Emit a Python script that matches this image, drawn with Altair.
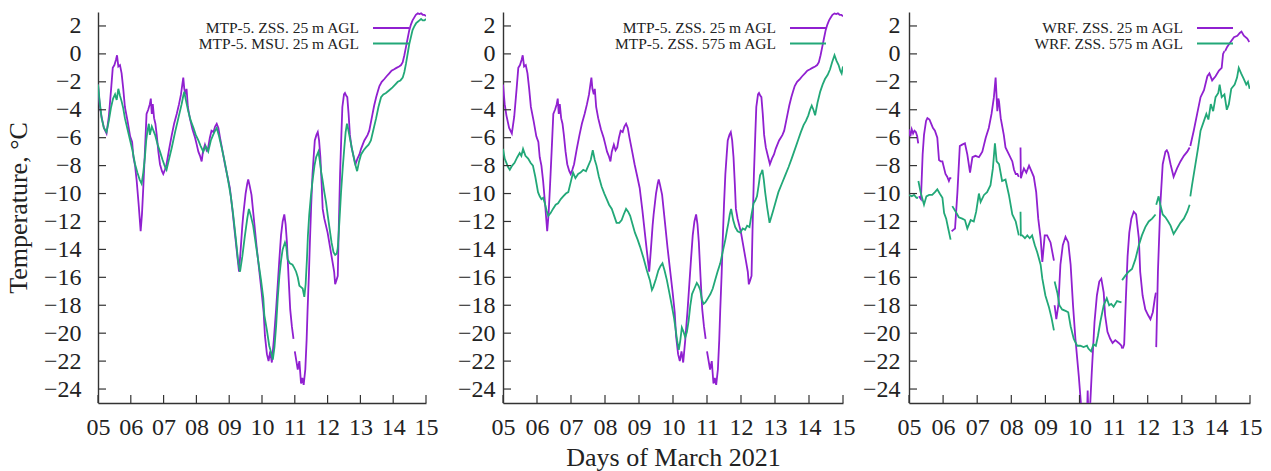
import altair as alt
import pandas as pd

FONT = "Liberation Serif"
PURPLE = "#9020d0"
GREEN = "#22a878"
AXC = "#333333"
TXT = "#222222"

X_TICKS = list(range(5, 16))
Y_TICKS = list(range(-24, 3, 2))

# ---- MTP-5, ZSS, 25 m AGL (panels 1 and 2) ----
ZSS25_DAY = [5.00,5.05,5.10,5.18,5.26,5.33,5.40,5.45,5.50,5.55,5.58,5.62,5.67,5.72,5.77,5.82,5.90,5.98,6.04,6.08,
             6.13,6.18,6.24,6.30,6.34,6.38,6.43,6.48,6.53,6.58,6.61,6.64,6.67,6.71,6.75,6.79,6.84,6.89,6.95,6.99,
             7.04,7.09,7.17,7.25,7.32,7.40,7.47,7.53,7.57,7.60,7.63,7.67,7.70,7.74,7.80,7.88,7.96,8.01,8.06,8.11,
             8.16,8.20,8.26,8.31,8.36,8.41,8.46,8.52,8.57,8.62,8.67,8.72,8.80,8.87,8.95,9.02,9.10,9.18,9.24,9.30,
             9.35,9.40,9.43,9.50,9.55,9.58,9.62,9.68,9.76,9.84,9.92,9.99,10.05,10.09,10.15,10.20,10.25,10.30,10.36,10.43,
             10.48,10.53,10.58,10.63,10.68,10.72,10.76,10.81,10.86,10.91,10.96,11.00,11.09,11.14,11.19,11.23,11.27,11.32,11.36,11.39,
             11.43,11.46,11.50,11.54,11.58,11.61,11.66,11.70,11.74,11.78,11.82,11.85,11.90,11.95,12.00,12.05,12.10,12.15,12.20,12.23,
             12.27,12.31,12.34,12.38,12.42,12.45,12.50,12.53,12.57,12.60,12.64,12.68,12.73,12.78,12.85,12.91,12.97,13.02,13.07,13.12,
             13.17,13.22,13.27,13.32,13.37,13.42,13.48,13.53,13.58,13.65,13.73,13.80,13.88,13.95,14.03,14.10,14.18,14.24,14.29,14.34,
             14.39,14.44,14.49,14.54,14.59,14.64,14.69,14.75,14.80,14.85,14.90,14.95,15.00]
ZSS25_T = [-2.2,-3.6,-4.4,-5.3,-5.7,-4.5,-2.5,-1.0,-0.8,-0.4,-0.1,-0.9,-0.8,-1.4,-2.5,-3.8,-4.8,-5.9,-6.3,-7.4,
           -8.0,-9.1,-10.8,-12.7,-11.5,-9.6,-7.0,-4.3,-4.0,-3.6,-3.2,-4.3,-3.6,-4.6,-5.0,-5.8,-7.0,-7.9,-8.4,-8.6,
           -8.3,-7.9,-6.8,-5.8,-5.0,-4.3,-3.6,-2.9,-2.2,-1.7,-2.5,-2.9,-2.5,-3.8,-4.6,-5.4,-6.0,-6.5,-7.0,-7.3,
           -7.7,-7.0,-6.5,-6.9,-6.7,-6.0,-5.5,-5.6,-5.2,-5.0,-5.3,-6.0,-7.0,-7.9,-8.8,-9.6,-11.2,-13.0,-14.3,-15.6,
           -14.0,-12.3,-11.5,-10.0,-9.3,-9.0,-9.4,-10.1,-12.0,-13.9,-15.6,-17.1,-18.5,-20.2,-21.5,-22.0,-21.3,-22.1,-20.5,-18.3,
           -16.5,-14.7,-13.0,-12.0,-11.5,-12.2,-13.5,-16.0,-18.3,-19.5,-20.4,-21.3,-22.6,-22.0,-23.6,-23.2,-23.7,-22.6,-20.5,-18.3,
           -15.8,-13.5,-10.8,-8.6,-7.2,-6.2,-5.8,-5.6,-6.2,-7.4,-9.4,-11.1,-11.8,-12.3,-12.8,-13.5,-14.2,-14.9,-15.6,-16.5,
           -16.2,-15.9,-12.5,-8.6,-5.8,-3.8,-2.9,-2.8,-3.0,-3.1,-4.3,-5.8,-6.7,-7.2,-7.9,-7.5,-7.2,-6.8,-6.5,-6.2,
           -6.0,-5.8,-5.5,-4.9,-4.3,-3.7,-3.1,-2.7,-2.3,-2.0,-1.8,-1.6,-1.4,-1.2,-1.1,-1.0,-0.9,-0.8,-0.6,-0.1,
           0.5,1.1,1.7,2.1,2.4,2.6,2.8,2.9,2.85,2.9,2.8,2.8,2.7]
ZSS25_BREAKS = [10.98]

# ---- MTP-5, MSU, 25 m AGL (panel 1) ----
MSU25_DAY = [5.00,5.05,5.11,5.18,5.26,5.33,5.40,5.46,5.52,5.57,5.62,5.67,5.72,5.77,5.82,5.90,5.98,6.05,6.13,6.20,
             6.27,6.33,6.38,6.43,6.47,6.51,6.55,6.58,6.64,6.69,6.74,6.82,6.89,6.97,7.03,7.09,7.17,7.25,7.35,7.45,
             7.55,7.60,7.63,7.67,7.75,7.83,7.91,7.98,8.06,8.13,8.21,8.28,8.36,8.44,8.51,8.57,8.62,8.68,8.77,8.87,
             8.97,9.05,9.12,9.20,9.27,9.33,9.40,9.48,9.55,9.60,9.66,9.73,9.81,9.89,9.97,10.04,10.07,10.15,10.22,10.28,
             10.33,10.38,10.43,10.48,10.53,10.58,10.63,10.70,10.74,10.78,10.85,10.93,10.98,11.04,11.09,11.14,11.19,11.24,11.29,11.33,
             11.37,11.40,11.44,11.49,11.54,11.60,11.65,11.72,11.76,11.80,11.85,11.90,11.95,12.00,12.06,12.12,12.18,12.23,12.28,12.31,
             12.36,12.41,12.46,12.51,12.55,12.59,12.62,12.66,12.71,12.76,12.83,12.90,12.96,13.02,13.10,13.17,13.25,13.32,13.40,13.48,
             13.55,13.63,13.70,13.78,13.88,13.98,14.06,14.14,14.22,14.29,14.34,14.39,14.44,14.49,14.54,14.59,14.65,14.70,14.75,14.80,
             14.85,14.90,14.95,15.00]
MSU25_T = [-2.2,-3.4,-4.6,-5.3,-5.6,-4.8,-3.8,-3.2,-2.9,-3.3,-2.5,-3.0,-3.4,-3.9,-4.6,-5.4,-6.2,-6.9,-7.9,-8.5,
           -9.0,-9.3,-8.5,-7.4,-6.2,-5.5,-5.0,-5.8,-5.2,-5.5,-5.8,-6.5,-7.0,-7.6,-8.0,-8.3,-7.5,-6.7,-5.6,-4.6,
           -3.6,-3.0,-2.7,-3.2,-4.1,-4.8,-5.3,-5.8,-6.2,-6.6,-7.0,-6.6,-7.0,-6.2,-5.8,-5.5,-5.3,-5.8,-6.7,-7.8,
           -9.1,-10.2,-11.5,-13.2,-14.8,-15.6,-14.5,-13.0,-11.8,-11.1,-11.6,-12.3,-13.6,-14.9,-16.2,-17.5,-18.7,-19.8,-20.9,-21.4,
           -21.9,-21.0,-19.5,-17.5,-15.9,-14.8,-14.0,-13.5,-13.8,-14.7,-15.0,-15.1,-15.3,-15.6,-16.0,-16.6,-16.7,-16.8,-17.4,-16.5,
           -14.7,-13.0,-11.5,-10.2,-9.1,-8.0,-7.4,-7.0,-7.6,-8.4,-9.1,-9.9,-10.6,-11.5,-12.5,-13.5,-14.2,-14.4,-14.3,-13.9,
           -12.0,-9.9,-8.2,-6.7,-5.6,-5.0,-5.3,-5.8,-6.4,-7.0,-7.8,-8.4,-7.7,-7.2,-6.9,-6.7,-6.5,-6.2,-5.4,-4.6,
           -3.8,-3.1,-2.9,-2.8,-2.6,-2.4,-2.2,-2.0,-1.9,-1.7,-1.3,-0.7,0.0,0.7,1.2,1.7,2.0,2.2,2.3,2.4,
           2.5,2.4,2.4,2.5]

# ---- MTP-5, ZSS, 575 m AGL (panel 2) ----
ZSS575_DAY = [5.00,5.05,5.10,5.15,5.20,5.27,5.34,5.42,5.49,5.54,5.59,5.66,5.74,5.81,5.88,5.95,6.03,6.08,6.13,6.18,
              6.23,6.28,6.33,6.40,6.47,6.55,6.62,6.70,6.77,6.85,6.92,6.99,7.06,7.13,7.21,7.28,7.36,7.44,7.51,7.58,
              7.64,7.70,7.75,7.82,7.90,7.98,8.05,8.12,8.20,8.27,8.34,8.42,8.49,8.55,8.62,8.68,8.74,8.81,8.88,8.96,
              9.03,9.13,9.23,9.32,9.38,9.42,9.50,9.57,9.63,9.69,9.75,9.82,9.90,9.97,10.03,10.07,10.12,10.17,10.21,10.26,
              10.31,10.36,10.41,10.46,10.51,10.56,10.63,10.70,10.75,10.80,10.85,10.90,10.95,11.00,11.05,11.10,11.17,11.24,11.31,11.39,
              11.46,11.54,11.59,11.63,11.67,11.71,11.77,11.83,11.90,11.98,12.05,12.12,12.18,12.25,12.31,12.37,12.42,12.47,12.52,12.56,
              12.60,12.63,12.67,12.71,12.77,12.84,12.90,12.96,13.03,13.10,13.20,13.30,13.40,13.49,13.59,13.69,13.76,13.84,13.91,13.98,
              14.03,14.08,14.13,14.18,14.25,14.33,14.40,14.47,14.55,14.62,14.68,14.75,14.81,14.87,14.92,14.96,15.00]
ZSS575_T = [-6.8,-7.5,-7.8,-8.1,-8.3,-8.0,-7.8,-7.4,-7.1,-7.3,-6.8,-7.3,-7.5,-7.8,-8.0,-8.8,-9.9,-10.2,-10.4,-10.3,
            -10.7,-11.2,-11.6,-11.4,-11.1,-10.8,-10.7,-10.4,-10.2,-10.0,-9.9,-9.2,-8.5,-8.9,-8.6,-8.5,-8.3,-8.4,-8.0,-7.6,
            -6.9,-7.6,-8.0,-8.8,-9.5,-10.0,-10.4,-10.8,-11.1,-11.6,-12.1,-12.1,-11.9,-11.5,-11.1,-11.3,-11.6,-12.2,-12.8,-13.3,
            -13.8,-14.6,-15.5,-16.2,-16.9,-16.7,-16.1,-15.5,-15.2,-15.0,-15.5,-16.2,-17.2,-18.1,-18.9,-19.6,-20.5,-21.2,-20.6,-19.6,
            -19.9,-20.3,-19.9,-19.1,-18.0,-17.2,-16.8,-16.4,-16.6,-16.9,-17.6,-17.9,-17.8,-17.6,-17.4,-17.2,-16.8,-16.2,-15.6,-15.0,
            -14.2,-13.3,-12.6,-12.1,-11.5,-11.1,-11.9,-12.4,-12.7,-12.8,-12.5,-12.6,-12.3,-12.4,-11.5,-10.7,-10.5,-10.2,-9.4,-8.7,
            -8.5,-8.3,-9.0,-9.9,-11.0,-12.1,-11.6,-11.1,-10.5,-9.9,-9.3,-8.7,-8.1,-7.5,-6.8,-6.1,-5.6,-5.1,-4.8,-4.4,
            -4.0,-3.7,-4.0,-4.4,-3.5,-2.7,-2.2,-1.8,-1.5,-1.1,-0.6,-0.1,-0.5,-0.8,-1.2,-1.4,-0.9]

# ---- WRF, ZSS, 25 m AGL (panel 3) ----
WRF25_DAY = [5.00,5.04,5.08,5.12,5.16,5.20,5.24,5.27,
             5.29,5.35,5.40,5.44,5.50,5.54,5.60,5.65,5.70,5.76,5.83,5.88,5.93,5.98,6.03,6.07,6.12,6.17,6.20,6.24,
             6.25,6.30,6.35,6.42,6.49,6.56,6.64,6.71,6.79,6.86,6.95,7.05,7.10,7.15,7.25,7.34,7.42,7.49,7.54,7.59,7.62,7.64,
             7.69,7.78,7.83,7.93,8.03,8.08,8.13,8.18,8.22,
             8.27,8.28,8.33,8.37,8.44,8.52,8.59,8.66,8.73,8.79,8.86,8.91,8.98,9.05,9.15,9.25,
             9.27,9.32,9.38,9.44,9.51,9.59,9.67,9.74,9.81,9.88,9.98,10.05,10.15,10.22,10.24,10.26,10.31,10.36,10.44,10.51,
             10.58,10.64,10.71,10.75,10.82,10.90,10.97,11.05,11.15,11.23,11.25,
             11.27,11.31,11.36,11.41,11.46,11.52,11.59,11.66,11.74,11.78,11.85,11.93,12.01,12.08,12.15,12.21,12.24,
             12.25,12.30,12.37,12.44,12.52,12.56,12.60,12.67,12.76,12.86,12.96,13.06,13.16,13.23,
             13.25,13.35,13.45,13.55,13.65,13.75,13.81,13.89,13.99,14.09,14.17,14.21,14.25,
             14.27,14.33,14.43,14.53,14.63,14.70,14.75,14.82,14.92,14.98]
WRF25_T = [-5.4,-5.9,-5.4,-5.7,-5.5,-5.6,-5.9,-6.4,
           -10.2,-10.4,-7.2,-5.8,-4.8,-4.6,-4.7,-5.0,-5.3,-5.5,-6.0,-7.6,-7.7,-7.7,-8.2,-8.6,-8.8,-9.1,-8.9,-8.9,
           -12.7,-12.6,-12.5,-9.9,-6.6,-6.5,-6.4,-7.2,-8.5,-7.4,-7.3,-7.4,-7.2,-7.0,-6.0,-5.3,-4.3,-3.1,-1.7,-4.1,-3.2,-3.4,
           -4.6,-5.8,-6.7,-7.2,-7.7,-8.3,-8.6,-8.6,-8.8,
           -6.7,-8.9,-8.5,-8.2,-8.5,-8.0,-8.4,-8.8,-9.9,-11.8,-13.2,-14.9,-13.0,-13.0,-13.5,-14.8,
           -18.0,-19.0,-18.0,-15.1,-13.7,-13.1,-13.5,-15.1,-18.0,-20.4,-23.1,-25.3,-26.5,-25.8,-24.1,-25.8,-25.3,-22.8,-19.2,-17.3,
           -16.3,-16.1,-17.1,-18.7,-19.9,-20.4,-20.7,-20.5,-20.7,-20.9,-21.1,
           -21.1,-20.8,-17.5,-14.5,-12.8,-11.8,-11.3,-11.5,-13.2,-15.6,-17.3,-18.3,-18.7,-19.0,-18.5,-17.5,-17.1,
           -21.0,-15.6,-10.8,-7.9,-7.0,-6.9,-7.1,-7.9,-8.8,-8.2,-7.7,-7.3,-7.0,-6.7,
           -6.6,-5.5,-4.3,-3.1,-2.6,-1.6,-1.4,-1.9,-1.6,-1.2,-1.0,0.0,0.2,
           0.2,0.5,0.85,1.2,1.3,1.5,1.6,1.3,1.1,0.85]
WRF25_BREAKS = [5.28, 6.245, 8.245, 9.26, 11.26, 12.245, 13.24, 14.26]

# ---- WRF, ZSS, 575 m AGL (panel 3) ----
WRF575_DAY = [5.00,5.08,5.15,5.22,5.265,
              5.275,5.34,5.44,5.51,5.59,5.68,5.76,5.83,5.90,5.98,6.03,6.09,6.15,6.22,
              6.27,6.37,6.46,6.56,6.64,6.71,6.81,6.90,6.97,7.05,7.10,7.20,7.29,7.39,7.46,7.52,7.57,7.64,7.73,7.83,
              7.93,8.03,8.13,8.22,
              8.27,8.28,8.32,8.40,8.47,8.54,8.61,8.69,8.76,8.86,8.91,9.00,9.10,9.18,9.25,
              9.27,9.35,9.41,9.49,9.59,9.67,9.74,9.83,9.93,10.02,10.12,10.22,10.26,10.34,10.41,10.48,10.54,10.61,10.71,10.80,
              10.87,10.93,11.00,11.10,11.23,
              11.25,11.34,11.44,11.54,11.64,11.74,11.83,11.93,12.03,12.13,12.23,
              12.25,12.32,12.37,12.44,12.52,12.60,12.67,12.76,12.86,12.96,13.06,13.16,13.23,
              13.25,13.30,13.40,13.48,13.55,13.65,13.72,13.78,13.85,13.92,13.99,14.07,14.11,14.17,14.25,14.32,14.38,14.45,14.55,14.62,
              14.67,14.74,14.82,14.89,14.94,14.99]
WRF575_T = [-10.1,-10.2,-10.1,-10.3,-10.3,
            -9.1,-9.9,-10.8,-10.2,-10.1,-10.1,-9.9,-9.7,-10.0,-10.3,-11.4,-11.8,-12.5,-13.3,
            -10.9,-11.3,-11.7,-11.8,-11.9,-12.5,-11.9,-12.0,-11.3,-10.0,-10.6,-10.1,-9.9,-9.4,-8.2,-6.4,-7.7,-7.9,-9.1,-9.0,
            -10.1,-11.5,-12.0,-13.0,
            -11.3,-13.0,-13.0,-13.2,-13.0,-13.2,-13.0,-13.7,-14.2,-15.1,-16.1,-17.3,-18.1,-18.9,-19.8,
            -16.3,-17.1,-18.0,-18.3,-18.4,-18.5,-19.5,-20.4,-20.9,-20.9,-21.0,-20.9,-21.1,-21.3,-20.8,-20.9,-20.2,-19.2,-18.0,-17.5,
            -18.0,-17.9,-18.1,-17.7,-17.8,
            -16.2,-15.9,-15.6,-15.4,-14.7,-13.7,-13.0,-12.4,-12.0,-11.8,-11.5,
            -10.8,-10.2,-10.8,-11.5,-11.7,-12.0,-12.3,-12.9,-12.5,-12.1,-11.8,-11.3,-10.8,
            -10.2,-9.4,-7.9,-6.7,-5.5,-4.8,-4.3,-4.7,-3.6,-4.1,-3.1,-2.8,-2.2,-3.1,-2.9,-4.0,-3.6,-2.5,-2.2,-1.7,
            -1.0,-1.4,-1.8,-2.2,-2.0,-2.5]
WRF575_BREAKS = [5.27, 6.245, 8.245, 9.26, 11.24, 12.24, 13.24]

NAMES = [
    ["MTP-5. ZSS. 25 m AGL", "MTP-5. MSU. 25 m AGL"],
    ["MTP-5. ZSS. 25 m AGL", "MTP-5. ZSS. 575 m AGL"],
    ["WRF. ZSS. 25 m AGL", "WRF. ZSS. 575 m AGL"],
]
KEYS = ["first", "second"]
WIDTHS = [328, 340, 341]
H = 391
LBL = 24


def series(key, days, temps, breaks=()):
    segs = [sum(1 for b in breaks if d > b) for d in days]
    return pd.DataFrame({"day": days, "temp": temps, "seg": [f"{key}-{s}" for s in segs], "key": key})


def panel(i, frames, ytitle, xtitle, ylabpad):
    W = WIDTHS[i]
    names = NAMES[i]
    df = pd.concat(frames, ignore_index=True)
    color = alt.Color("key:N", scale=alt.Scale(domain=KEYS, range=[PURPLE, GREEN]), legend=None)
    xaxis = alt.Axis(values=X_TICKS, format="02d", ticks=False, grid=False, domainColor=AXC, domainWidth=1.4,
                     labelFont=FONT, labelFontSize=LBL, labelColor=TXT, labelPadding=12, labelFlush=False,
                     labelOverlap=False, title=xtitle, titleFont=FONT, titleFontSize=26, titleFontWeight="normal",
                     titleColor=TXT, titlePadding=5)
    yaxis = alt.Axis(values=Y_TICKS, ticks=False, grid=False, domainColor=AXC, domainWidth=1.4,
                     labelFont=FONT, labelFontSize=LBL, labelColor=TXT, labelPadding=ylabpad,
                     labelOverlap=False, labelFlush=False, title=ytitle, titleFont=FONT, titleFontSize=26,
                     titleFontWeight="normal", titleColor=TXT, titlePadding=12)
    xs = alt.Scale(domain=[5, 15], nice=False, zero=False)
    ys = alt.Scale(domain=[-25, 3], nice=False, zero=False)
    lines = alt.Chart(df).mark_line(strokeWidth=1.8, clip=True).encode(
        x=alt.X("day:Q", scale=xs, axis=xaxis),
        y=alt.Y("temp:Q", scale=ys, axis=yaxis),
        color=color,
        detail="seg:N",
    )
    yt = alt.Chart(pd.DataFrame({"temp": Y_TICKS})).mark_rule(color=AXC, strokeWidth=1.2).encode(
        y=alt.Y("temp:Q", scale=ys, axis=yaxis), x=alt.value(0), x2=alt.value(8))
    xt = alt.Chart(pd.DataFrame({"day": X_TICKS})).mark_rule(color=AXC, strokeWidth=1.2).encode(
        x=alt.X("day:Q", scale=xs, axis=xaxis), y=alt.value(H), y2=alt.value(H - 8))
    layers = [lines, yt, xt]
    for k, (nm, col, yy) in enumerate(zip(names, [PURPLE, GREEN], [16, 31.5])):
        lab = pd.DataFrame({"label": [nm]})
        layers.append(alt.Chart(lab).mark_text(align="right", baseline="middle", font=FONT, fontSize=15.5,
                                                color=TXT).encode(
            x=alt.value(W - 67), y=alt.value(yy), text="label:N"))
        layers.append(alt.Chart(lab).mark_rule(color=col, strokeWidth=1.8).encode(
            x=alt.value(W - 53), x2=alt.value(W - 17), y=alt.value(yy)))
    return alt.layer(*layers).properties(width=W, height=H)


p1 = panel(0, [series(KEYS[0], ZSS25_DAY, ZSS25_T, ZSS25_BREAKS),
               series(KEYS[1], MSU25_DAY, MSU25_T)], "Temperature, °C", None, 17)
p2 = panel(1, [series(KEYS[0], ZSS25_DAY, ZSS25_T, ZSS25_BREAKS),
               series(KEYS[1], ZSS575_DAY, ZSS575_T)], None, "Days of March 2021", 8)
p3 = panel(2, [series(KEYS[0], WRF25_DAY, WRF25_T, WRF25_BREAKS),
               series(KEYS[1], WRF575_DAY, WRF575_T, WRF575_BREAKS)], None, None, 9)

chart = alt.hconcat(alt.hconcat(p1, p2, spacing=19), p3, spacing=7).configure(
    padding={"left": 5, "top": 12, "right": 5, "bottom": 5}
).configure_view(stroke=None)

chart.save("out.html", embed_options={"renderer": "svg", "actions": False})
